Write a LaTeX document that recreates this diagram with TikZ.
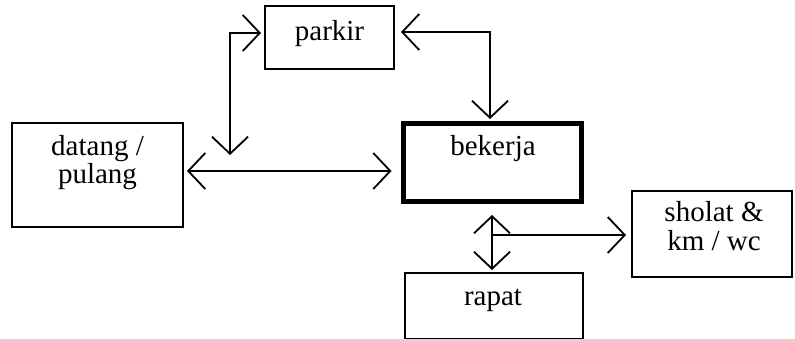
\documentclass[tikz,border=0pt]{standalone}
\usepackage{fontspec}
\setmainfont{Liberation Serif}
\usetikzlibrary{arrows.meta,calc}
\begin{document}
\begin{tikzpicture}[x=1pt,y=-1pt,
  box/.style={draw,line width=2pt,inner sep=0pt},
  txt/.style={anchor=base,inner sep=0pt,font=\fontsize{29}{28}\selectfont},
  conn/.style={line width=1.8pt,{Straight Barb[length=17pt,width=36pt]}-{Straight Barb[length=17pt,width=36pt]}},
  oneway/.style={line width=1.8pt,-{Straight Barb[length=17pt,width=36pt]}}]
\useasboundingbox (0,0) rectangle (795,339);
% boxes
\node[box,minimum width=129pt,minimum height=63pt] (parkir) at (329.5,37.5) {};
\node[box,minimum width=171pt,minimum height=104pt] (datang) at (97.5,175) {};
\node[box,line width=5pt,minimum width=178pt,minimum height=78pt] (bekerja) at (492,163) {};
\node[box,minimum width=160pt,minimum height=86pt] (sholat) at (712,234) {};
\node[box,minimum width=178pt,minimum height=66pt] (rapat) at (494,306) {};
% texts
\node[txt] (tparkir) at (329.5,41) {parkir};
\node[txt] (tdatang1) at (97.5,156) {datang /};
\node[txt] (tdatang2) at (97.5,184) {pulang};
\node[txt] (tbekerja) at (493,156) {bekerja};
\node[txt] (tsholat1) at (714,222) {sholat \&};
\node[txt] (tsholat2) at (714,251) {km / wc};
\node[txt] (trapat) at (493,305) {rapat};
% connectors
\coordinate (lc) at (230,155);
\coordinate (pw) at ($(parkir.west)+(-3,-4.5)$);
\coordinate (pe) at ($(parkir.east)+(6,-5.5)$);
\coordinate (bt) at (490,119);
\coordinate (rb) at (492,215);
\coordinate (rr) at (492,270);
\coordinate (br) at (492,235);
\draw[conn] (lc) |- (pw);
\draw[conn] (bt) |- (pe);
\draw[conn] ($(datang.east)+(3,-4)$) -- ($(bekerja.west)+(-9,8)$);
\draw[conn] (rb) -- (rr);
\draw[oneway] (br) -- ($(sholat.west)+(-5,1)$);
\end{tikzpicture}
\end{document}
